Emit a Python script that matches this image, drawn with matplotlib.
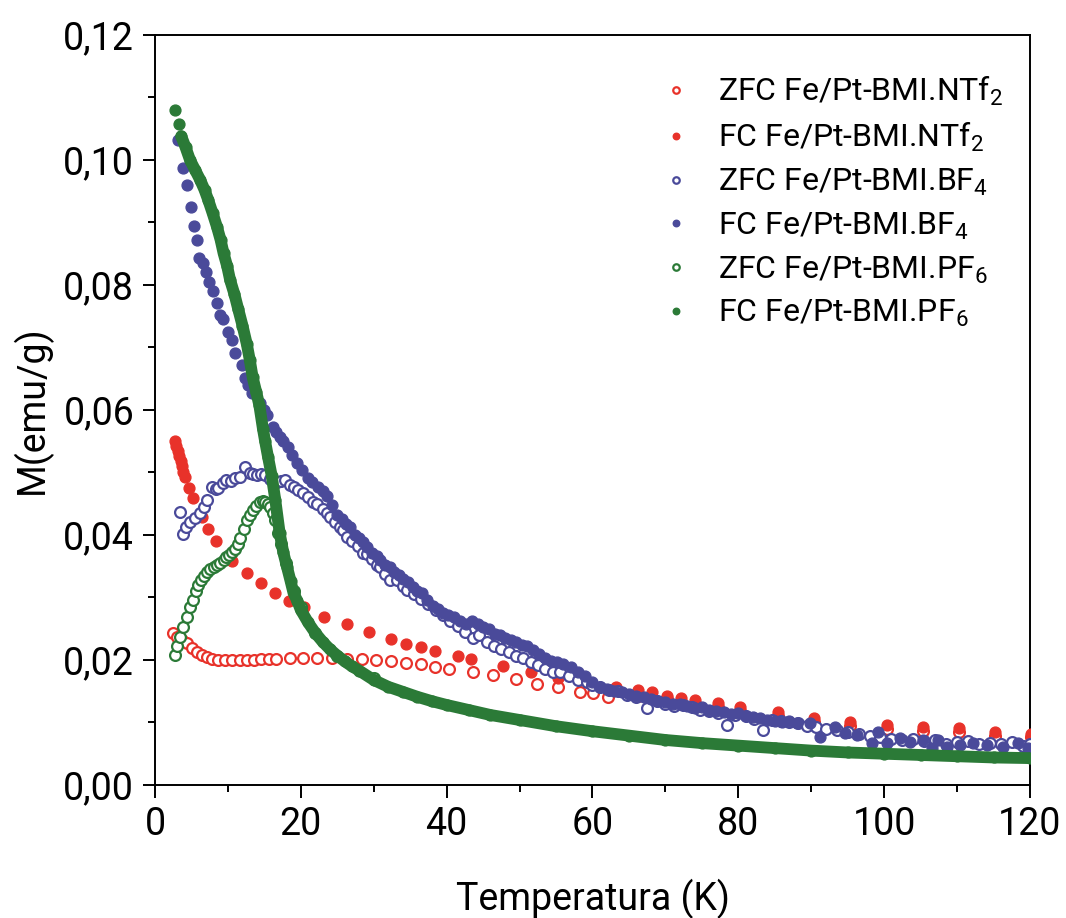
import matplotlib
matplotlib.use("Agg")
import matplotlib.pyplot as plt
from matplotlib.ticker import MultipleLocator, FuncFormatter

plt.rcParams['font.family'] = ['Roboto', 'DejaVu Sans']
plt.rcParams['mathtext.default'] = 'regular'

# ZFC / FC curves, M (emu/g) vs T (K)
t_zfc_ntf2 = [2.5, 3.0, 3.7, 4.4, 5.1, 5.8, 6.4, 7.1, 7.8, 8.6, 9.6, 10.6, 11.6, 12.6, 13.6,
              14.6, 15.6, 16.6, 18.5, 20.3, 22.2, 24.3, 26.3, 28.4, 30.3, 32.4, 34.4, 36.5,
              38.4, 40.3, 43.6, 46.4, 49.5, 52.4, 55.3, 58.3, 60.1, 62.1, 66.2, 70.2, 72.1,
              74.1, 77.2, 80.2, 85.4, 90.4, 95.3, 100.4, 105.3, 110.3, 115.2, 120.1]
m_zfc_ntf2 = [0.0243, 0.0237, 0.0232, 0.0227, 0.0219, 0.0213, 0.0208, 0.0205, 0.0201, 0.0200,
              0.0200, 0.0200, 0.0200, 0.0200, 0.0200, 0.0201, 0.0201, 0.0201, 0.0203, 0.0203,
              0.0203, 0.0203, 0.0202, 0.0202, 0.0200, 0.0198, 0.0195, 0.0193, 0.0189, 0.0186,
              0.0181, 0.0176, 0.0170, 0.0162, 0.0156, 0.0149, 0.0147, 0.0140, 0.0142, 0.0137,
              0.0133, 0.0130, 0.0125, 0.0119, 0.0111, 0.0101, 0.0095, 0.0090, 0.0087, 0.0085,
              0.0079, 0.0076]

t_fc_ntf2 = [2.7, 2.9, 3.1, 3.3, 3.5, 3.7, 3.9, 4.1, 4.66, 5.21, 6.45, 7.27, 8.37, 10.56, 12.6,
             14.5, 16.5, 18.4, 20.4, 23.2, 26.3, 29.3, 32.4, 34.4, 36.5, 38.4, 41.6, 43.3, 47.7,
             51.6, 55.3, 63.2, 66.2, 68.2, 70.2, 72.1, 74.1, 77.2, 80.2, 85.4, 90.4, 95.3,
             100.4, 105.3, 110.3, 115.2, 120.1]
m_fc_ntf2 = [0.0550, 0.0543, 0.0535, 0.0527, 0.0519, 0.0510, 0.0501, 0.0493, 0.0475, 0.0459,
             0.0429, 0.0410, 0.0390, 0.0358, 0.0339, 0.0323, 0.0307, 0.0294, 0.0285, 0.0269,
             0.0258, 0.0245, 0.0234, 0.0226, 0.0221, 0.0214, 0.0206, 0.0201, 0.0190, 0.0180,
             0.0171, 0.0157, 0.0152, 0.0148, 0.0142, 0.0139, 0.0136, 0.0131, 0.0125, 0.0117,
             0.0107, 0.0101, 0.0096, 0.0093, 0.0091, 0.0085, 0.0082]

t_zfc_bf4 = [3.4, 3.9, 4.2, 4.8, 5.5, 6.2, 6.7, 7.1, 7.8, 8.3, 8.7, 9.3, 9.8, 10.4, 11.0, 11.7,
             12.3, 13.0, 13.5, 14.0, 14.6, 15.1, 15.8, 16.7, 17.3, 17.8, 18.5, 19.0, 19.6, 20.3,
             21.0, 21.7, 22.2, 23.0, 23.6, 24.0, 24.7, 25.4, 25.8, 26.3, 27.0, 27.8, 28.5, 29.1,
             29.8, 30.4, 30.9, 31.6, 32.2, 33.2, 34.0, 34.6, 35.5, 36.5, 37.5, 38.5, 39.5, 40.5,
             41.5, 42.5, 43.6, 44.5, 45.5, 46.5, 47.5, 48.5, 49.5, 50.5, 51.5, 52.5, 53.5, 54.6,
             55.6, 56.8, 58.0, 59.2, 60.0, 61.0, 62.3, 63.5, 64.8, 66.0, 67.5, 68.8, 70.0, 71.2,
             72.4, 73.6, 74.8, 76.0, 77.2, 78.4, 79.6, 81.0, 82.2, 83.4, 84.6, 85.8, 87.0, 88.2,
             89.4, 90.6, 92.0, 93.5, 95.0, 96.5, 98.0, 99.5, 101.0, 102.5, 104.0, 105.5, 107.0,
             108.5, 110.0, 111.5, 113.0, 114.5, 116.0, 117.5, 119.0, 120.0]
m_zfc_bf4 = [0.0437, 0.0402, 0.0413, 0.0421, 0.0427, 0.0435, 0.0445, 0.0456, 0.0477, 0.0474,
             0.0475, 0.0483, 0.0488, 0.0486, 0.0491, 0.0493, 0.0509, 0.0499, 0.0497, 0.0496,
             0.0497, 0.0496, 0.0490, 0.0485, 0.0486, 0.0488, 0.0480, 0.0477, 0.0472, 0.0467,
             0.0460, 0.0453, 0.0449, 0.0442, 0.0435, 0.0429, 0.0420, 0.0413, 0.0408, 0.0397,
             0.0390, 0.0382, 0.0371, 0.0370, 0.0361, 0.0352, 0.0349, 0.0338, 0.0328, 0.0328,
             0.0318, 0.0312, 0.0305, 0.0298, 0.0290, 0.0280, 0.0272, 0.0262, 0.0254, 0.0245,
             0.0235, 0.0240, 0.0228, 0.0222, 0.0218, 0.0212, 0.0206, 0.0203, 0.0196, 0.0192,
             0.0186, 0.0181, 0.0180, 0.0175, 0.0168, 0.0165, 0.0160, 0.0157, 0.0152, 0.0150,
             0.0144, 0.0140, 0.0123, 0.0134, 0.0130, 0.0127, 0.0128, 0.0124, 0.0120, 0.0118,
             0.0115, 0.0096, 0.0112, 0.0110, 0.0106, 0.0088, 0.0104, 0.0102, 0.0100, 0.0099,
             0.0095, 0.0092, 0.0090, 0.0088, 0.0085, 0.0082, 0.0079, 0.0077, 0.0074, 0.0072,
             0.0073, 0.0070, 0.0072, 0.0066, 0.0068, 0.0070, 0.0065, 0.0067, 0.0066, 0.0068,
             0.0063, 0.0066]

t_fc_bf4 = [3.2, 3.8, 4.4, 4.9, 5.4, 5.7, 6.1, 6.6, 7.0, 7.4, 7.9, 8.5, 8.9, 9.3, 10.0, 10.5,
            11.0, 11.9, 12.3, 12.8, 13.3, 14.4, 14.9, 15.4, 16.2, 16.6, 17.1, 17.6, 18.2, 18.8,
            19.5, 20.2, 21.0, 21.5, 22.3, 23.0, 23.6, 24.3, 25.0, 25.6, 26.2, 26.7, 27.4, 28.0,
            28.5, 29.1, 29.8, 30.4, 30.9, 31.6, 32.2, 32.8, 33.4, 34.0, 34.7, 35.4, 36.0, 36.6,
            37.3, 38.1, 38.8, 39.5, 40.2, 41.0, 41.8, 42.6, 43.5, 44.3, 45.0, 45.8, 46.6, 47.3,
            48.0, 48.8, 49.5, 50.3, 51.0, 51.8, 52.6, 53.5, 54.3, 55.2, 56.0, 57.0, 58.0, 59.0,
            60.0, 61.0, 62.0, 63.0, 64.0, 65.0, 66.0, 67.0, 68.0, 69.0, 70.0, 71.0, 72.0, 73.0,
            74.0, 75.0, 76.0, 77.0, 78.0, 79.0, 80.0, 81.0, 82.0, 83.0, 84.0, 85.0, 86.0, 87.0,
            88.0, 89.8, 91.2, 93.3, 94.6, 96.3, 98.3, 99.2, 100.4, 102.2, 103.5, 105.3, 106.6,
            107.4, 108.6, 110.4, 112.2, 114.1, 116.3, 118.4, 119.7]
m_fc_bf4 = [0.1032, 0.0987, 0.0960, 0.0925, 0.0894, 0.0872, 0.0843, 0.0835, 0.0820, 0.0805,
            0.0790, 0.0771, 0.0752, 0.0745, 0.0725, 0.0712, 0.0691, 0.0672, 0.0651, 0.0640,
            0.0627, 0.0611, 0.0600, 0.0592, 0.0573, 0.0565, 0.0557, 0.0550, 0.0541, 0.0528,
            0.0515, 0.0504, 0.0491, 0.0485, 0.0476, 0.0470, 0.0462, 0.0448, 0.0432, 0.0425,
            0.0418, 0.0413, 0.0400, 0.0395, 0.0388, 0.0381, 0.0371, 0.0366, 0.0360, 0.0352,
            0.0348, 0.0340, 0.0336, 0.0330, 0.0324, 0.0317, 0.0310, 0.0307, 0.0296, 0.0287,
            0.0281, 0.0275, 0.0272, 0.0268, 0.0262, 0.0258, 0.0262, 0.0258, 0.0252, 0.0249,
            0.0242, 0.0240, 0.0235, 0.0232, 0.0228, 0.0224, 0.0222, 0.0216, 0.0210, 0.0203,
            0.0198, 0.0196, 0.0193, 0.0189, 0.0180, 0.0175, 0.0165, 0.0157, 0.0154, 0.0151,
            0.0149, 0.0146, 0.0142, 0.0140, 0.0138, 0.0134, 0.0132, 0.0129, 0.0130, 0.0126,
            0.0123, 0.0124, 0.0120, 0.0118, 0.0116, 0.0114, 0.0115, 0.0111, 0.0108, 0.0107,
            0.0104, 0.0103, 0.0101, 0.0102, 0.0099, 0.0099, 0.0077, 0.0093, 0.0083, 0.0080,
            0.0067, 0.0085, 0.0067, 0.0075, 0.0069, 0.0072, 0.0059, 0.0072, 0.0061, 0.0064,
            0.0067, 0.0064, 0.0061, 0.0067, 0.0059]

t_zfc_pf6 = [2.7, 3.0, 3.4, 3.9, 4.4, 4.8, 5.2, 5.6, 5.9, 6.3, 6.7, 7.1, 7.6, 8.1, 8.5, 8.9,
             9.4, 9.8, 10.2, 10.6, 11.0, 11.4, 11.7, 12.2, 12.6, 13.0, 13.4, 13.9, 14.4, 14.8,
             15.1, 15.5, 15.8, 16.2, 16.5, 16.9, 17.3, 18.0, 19.0, 20.0, 22.0, 25.0, 30.0]
m_zfc_pf6 = [0.0208, 0.0222, 0.0237, 0.0253, 0.0269, 0.0285, 0.0296, 0.0310, 0.0320, 0.0328,
             0.0335, 0.0341, 0.0345, 0.0349, 0.0352, 0.0355, 0.0360, 0.0364, 0.0368, 0.0372,
             0.0378, 0.0386, 0.0395, 0.0410, 0.0424, 0.0432, 0.0440, 0.0447, 0.0453, 0.0455,
             0.0453, 0.0450, 0.0445, 0.0435, 0.0424, 0.0403, 0.0385, 0.0355, 0.0310, 0.0285,
             0.0243, 0.0207, 0.0171]

t_fc_pf6 = [2.7, 3.3, 3.6, 4.2, 4.8, 5.5, 6.2, 6.8, 7.3, 7.9, 8.5, 9.0, 9.4, 9.9, 10.3, 10.9,
            11.4, 12.0, 12.6, 13.0, 13.4, 13.9, 14.3, 14.8, 15.1, 15.5, 16.0, 16.5, 17.1, 17.6,
            18.1, 18.6, 19.0, 19.5, 20.0, 21.0, 22.0, 23.0, 24.0, 25.0, 26.0, 27.0, 28.0, 30.0,
            32.0, 34.0, 36.0, 38.0, 40.0, 43.0, 46.0, 50.0, 55.0, 60.0, 65.0, 70.0, 75.0, 80.0,
            85.0, 90.0, 95.0, 100.0, 105.0, 110.0, 115.0, 120.0]
m_fc_pf6 = [0.1080, 0.1058, 0.1038, 0.1020, 0.1000, 0.0984, 0.0968, 0.0952, 0.0936, 0.0915,
            0.0893, 0.0872, 0.0851, 0.0830, 0.0808, 0.0785, 0.0762, 0.0735, 0.0705, 0.0680,
            0.0652, 0.0628, 0.0608, 0.0570, 0.0550, 0.0525, 0.0495, 0.0456, 0.0403, 0.0372,
            0.0349, 0.0326, 0.0307, 0.0295, 0.0280, 0.0260, 0.0243, 0.0229, 0.0217, 0.0207,
            0.0198, 0.0190, 0.0183, 0.0168, 0.0157, 0.0149, 0.0141, 0.0134, 0.0128, 0.0120,
            0.0112, 0.0104, 0.0094, 0.0086, 0.0079, 0.0072, 0.0067, 0.0063, 0.0059, 0.0055,
            0.0052, 0.0050, 0.0048, 0.0046, 0.0044, 0.0043]

red = '#e8322a'
blue = '#4a4a9a'
green = '#2b7a37'
ms = 7.8

fig = plt.figure(figsize=(10.66, 9.18), dpi=100)
ax = fig.add_axes([0.1454, 0.1449, 0.8208, 0.817])

ax.plot(t_zfc_ntf2, m_zfc_ntf2, 'o', ms=ms, mfc='white', mec=red, mew=1.6, ls='none',
        label=r'ZFC Fe/Pt-BMI.NTf$_2$', zorder=2)
ax.plot(t_fc_ntf2, m_fc_ntf2, 'o', ms=ms, color=red, mec=red, ls='none',
        label=r'FC Fe/Pt-BMI.NTf$_2$', zorder=3)
ax.plot(t_zfc_bf4, m_zfc_bf4, 'o', ms=ms, mfc='white', mec=blue, mew=1.6, ls='none',
        label=r'ZFC Fe/Pt-BMI.BF$_4$', zorder=4)
ax.plot(t_fc_bf4, m_fc_bf4, 'o', ms=ms, color=blue, mec=blue, ls='none',
        label=r'FC Fe/Pt-BMI.BF$_4$', zorder=5)
ax.plot(t_zfc_pf6, m_zfc_pf6, 'o', ms=ms, mfc='white', mec=green, mew=1.6, ls='none',
        label=r'ZFC Fe/Pt-BMI.PF$_6$', zorder=6)
ax.plot(t_fc_pf6, m_fc_pf6, 'o', ms=ms, color=green, mec=green, ls='none',
        label=r'FC Fe/Pt-BMI.PF$_6$', zorder=7)
# dense part of the FC PF6 run reads as a solid band
ax.plot(t_fc_pf6[2:], m_fc_pf6[2:], '-', color=green, lw=8.5,
        solid_capstyle='round', solid_joinstyle='round', zorder=7)

ax.set_xlim(0, 120)
ax.set_ylim(0, 0.12)
ax.xaxis.set_major_locator(MultipleLocator(20))
ax.xaxis.set_minor_locator(MultipleLocator(10))
ax.yaxis.set_major_locator(MultipleLocator(0.02))
ax.yaxis.set_minor_locator(MultipleLocator(0.01))
ax.yaxis.set_major_formatter(FuncFormatter(lambda v, p: f'{v:.2f}'.replace('.', ',')))

for s in ax.spines.values():
    s.set_linewidth(1.4)
ax.tick_params(which='major', direction='out', length=9, width=1.4, labelsize=27, pad=6)
ax.tick_params(which='minor', direction='out', length=5, width=1.4)

ax.set_xlabel('Temperatura (K)', fontsize=27, labelpad=26)
ax.set_ylabel('M(emu/g)', fontsize=27, labelpad=8)

leg = ax.legend(loc='upper left', bbox_to_anchor=(0.552, 0.985), frameon=False, fontsize=23,
                handlelength=0.6, handletextpad=1.0, labelspacing=0.40, markerscale=0.6)

fig.savefig('out.png', dpi=100)
